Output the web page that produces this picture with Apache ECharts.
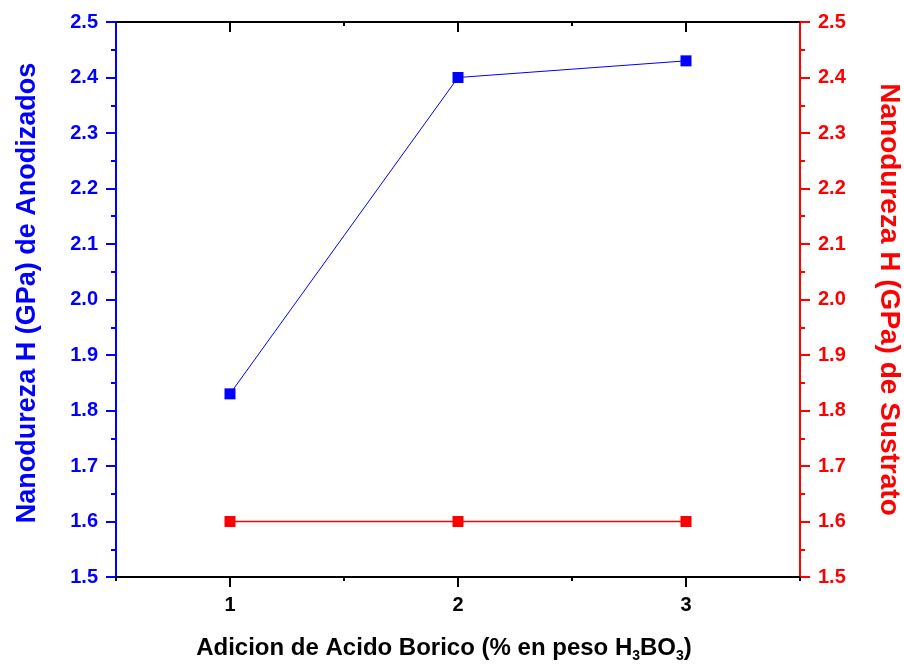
<!DOCTYPE html>
<html>
<head>
<meta charset="utf-8">
<script src="https://cdn.jsdelivr.net/npm/echarts@6/dist/echarts.min.js"></script>
<style>
  html, body { margin: 0; padding: 0; background: #fff; }
  #chart { width: 904px; height: 667px; }
</style>
</head>
<body>
<div id="chart"></div>
<script>
// Boric acid additions (% by weight H3BO3)
const boricAcid = [1, 2, 3];
// Nanohardness of the anodized layers (GPa)
const hardnessAnodized = [1.83, 2.40, 2.43];
// Nanohardness of the substrate (GPa)
const hardnessSubstrate = [1.60, 1.60, 1.60];

const xMajorTicks = [1, 2, 3];
const xMinorTicks = [0.5, 1.5, 2.5, 3.5];

const BLUE = '#0000ff';
const RED = '#ff0000';
const FONT = '"Liberation Sans", Arial, sans-serif';

const chart = echarts.init(document.getElementById('chart'));

function xAxisBase(extra) {
  return Object.assign({
    type: 'value',
    min: 0.5,
    max: 3.5,
    splitLine: { show: false },
    axisLine: { show: false },
    axisLabel: { show: false },
    axisTick: { show: false }
  }, extra);
}

const yCommon = (color, titleSize, titlePadding) => ({
  type: 'value',
  min: 1.5,
  max: 2.5,
  interval: 0.1,
  splitLine: { show: false },
  axisLine: { show: true, lineStyle: { color: color, width: 2 } },
  axisTick: { show: true, length: 10, lineStyle: { color: color, width: 2 } },
  minorTick: { show: true, splitNumber: 2, length: 5, lineStyle: { color: color, width: 2 } },
  axisLabel: {
    color: color, fontFamily: FONT, fontWeight: 'bold', fontSize: 20, margin: 18,
    formatter: (v) => v.toFixed(1)
  },
  nameLocation: 'middle',
  nameGap: 75,
  nameTextStyle: { color: color, fontFamily: FONT, fontWeight: 'bold', fontSize: titleSize, padding: titlePadding }
});

const lineSeries = (name, data, color, yIdx, width) => ({
  name: name,
  type: 'line',
  xAxisIndex: 0,
  yAxisIndex: yIdx,
  data: boricAcid.map((x, i) => [x, data[i]]),
  symbol: 'rect',
  symbolSize: 11,
  color: color,
  itemStyle: { color: color },
  lineStyle: { color: color, width: width },
  emphasis: { disabled: true },
  z: 5
});

chart.setOption({
  animation: false,
  backgroundColor: '#ffffff',
  grid: { left: 116, right: 104, top: 22, bottom: 90, containLabel: false, outerBoundsMode: 'none' },
  xAxis: [
    // bottom axis: line, major ticks, labels and title
    xAxisBase({
      position: 'bottom',
      axisLine: { show: true, onZero: false, lineStyle: { color: '#000', width: 2 } },
      axisTick: { show: true, length: 10, customValues: xMajorTicks, lineStyle: { color: '#000', width: 2 } },
      axisLabel: {
        show: true, customValues: xMajorTicks, margin: 18,
        color: '#000', fontFamily: FONT, fontWeight: 'bold', fontSize: 20,
        formatter: (v) => String(v)
      },
      name: '{a|Adicion de Acido Borico (% en peso H}{s|3}{a|BO}{s|3}{a|)}',
      nameLocation: 'middle',
      nameGap: 56,
      nameTextStyle: {
        padding: [0, 28, 0, 0],
        rich: {
          a: { fontFamily: FONT, fontWeight: 'bold', fontSize: 24, color: '#000' },
          s: { fontFamily: FONT, fontWeight: 'bold', fontSize: 14, color: '#000', verticalAlign: 'bottom', padding: [16, 0, 0, 0] }
        }
      }
    }),
    // bottom minor ticks
    xAxisBase({
      position: 'bottom',
      axisTick: { show: true, length: 4, customValues: xMinorTicks, lineStyle: { color: '#000', width: 2 } }
    }),
    // top frame with inward major ticks
    xAxisBase({
      position: 'top',
      axisLine: { show: true, onZero: false, lineStyle: { color: '#000', width: 2 } },
      axisTick: { show: true, inside: true, length: 10, customValues: xMajorTicks, lineStyle: { color: '#000', width: 2 } }
    }),
    // top inward minor ticks
    xAxisBase({
      position: 'top',
      axisTick: { show: true, inside: true, length: 4, customValues: [1.5, 2.5], lineStyle: { color: '#000', width: 2 } }
    })
  ],
  yAxis: [
    Object.assign(yCommon(BLUE, 27, [0, 0, 0, 13]), {
      position: 'left',
      name: 'Nanodureza H (GPa) de Anodizados',
      nameRotate: 90
    }),
    Object.assign(yCommon(RED, 28, [0, 0, 0, 0]), {
      position: 'right',
      name: 'Nanodureza H (GPa) de Sustrato',
      nameRotate: -90
    })
  ],
  series: [
    lineSeries('Anodizados', hardnessAnodized, BLUE, 0, 1),
    lineSeries('Sustrato', hardnessSubstrate, RED, 1, 1.5)
  ]
});
</script>
</body>
</html>
